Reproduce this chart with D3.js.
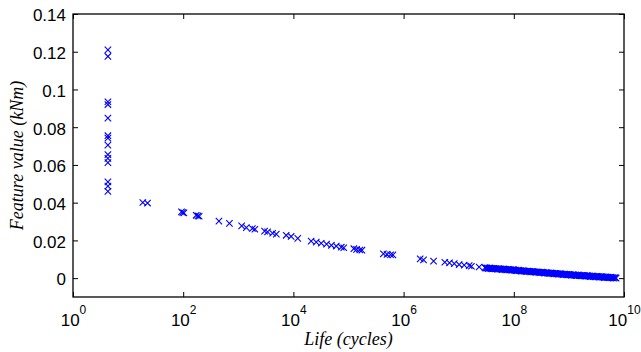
<!DOCTYPE html>
<html>
<head>
<meta charset="utf-8">
<script src="https://cdn.jsdelivr.net/npm/d3@7"></script>
<style>
  html, body { margin: 0; padding: 0; background: #fff; }
  svg { display: block; }
  .tick text { font-family: "Liberation Sans", Arial, Helvetica, sans-serif; fill: #000; }
  .label { font-family: "Liberation Serif", "Times New Roman", serif; font-style: italic; fill: #000; }
</style>
</head>
<body>
<svg id="chart" width="641" height="352"></svg>
<script>
// Short- and medium-life specimens
const earlyLife = [4.3, 4.3, 4.3, 4.3, 4.3, 4.3, 4.3, 4.3, 4.3, 4.3, 4.3, 4.3, 4.3, 4.3,
  18.5, 22.5, 93, 98, 103, 172, 185, 195, 445, 690,
  1150, 1400, 1800, 2000, 3000, 3400, 4200, 4900, 7400, 9100, 12000,
  21000, 26000, 32000, 40000, 49000, 60000, 74000, 82000,
  125000, 140000, 160000, 175000, 430000, 500000, 580000, 640000,
  2.0e6, 2.3e6, 3.5e6, 5.6e6, 6.8e6, 8.3e6, 1.02e7, 1.26e7, 1.55e7, 1.7e7, 2.35e7];
const earlyFeature = [0.1210, 0.1175, 0.0935, 0.0920, 0.0848, 0.0755, 0.0742, 0.0705, 0.0655, 0.0635, 0.0612, 0.0510, 0.0488, 0.0460,
  0.0401, 0.0398, 0.0351, 0.0348, 0.0346, 0.0333, 0.0330, 0.0328, 0.0302, 0.0290,
  0.0277, 0.0268, 0.0263, 0.0259, 0.0249, 0.0245, 0.0238, 0.0233, 0.0227, 0.0221, 0.0211,
  0.0196, 0.0191, 0.0185, 0.0180, 0.0174, 0.0170, 0.0164, 0.0161,
  0.0156, 0.0152, 0.0149, 0.0148, 0.0129, 0.0126, 0.0124, 0.0123,
  0.0102, 0.0097, 0.0090, 0.0084, 0.0081, 0.0077, 0.0072, 0.0069, 0.0066, 0.0063, 0.0059];

// High-cycle specimens, 1e7 decade
const tailLife7 = [3.0e7, 3.1e7, 3.25e7, 3.4e7, 3.5e7, 3.65e7, 3.8e7, 3.95e7, 4.1e7, 4.25e7,
  4.4e7, 4.6e7, 4.8e7, 5.0e7, 5.2e7, 5.4e7, 5.6e7, 5.85e7, 6.1e7, 6.35e7,
  6.6e7, 6.85e7, 7.1e7, 7.4e7, 7.7e7, 8.0e7, 8.3e7, 8.65e7, 9.0e7, 9.35e7, 9.7e7];
const tailFeature7 = [0.0056, 0.0053, 0.0054, 0.0051, 0.0052, 0.0054, 0.0051, 0.0052, 0.0049, 0.0051,
  0.0052, 0.0049, 0.0051, 0.0047, 0.0049, 0.0051, 0.0047, 0.0049, 0.0045, 0.0047,
  0.0049, 0.0045, 0.0047, 0.0044, 0.0045, 0.0047, 0.0044, 0.0045, 0.0042, 0.0043, 0.0045];

// High-cycle specimens, 1e8 decade
const tailLife8 = [1.0e8, 1.04e8, 1.08e8, 1.12e8, 1.17e8, 1.22e8, 1.27e8, 1.32e8, 1.37e8, 1.42e8,
  1.48e8, 1.54e8, 1.6e8, 1.66e8, 1.73e8, 1.8e8, 1.87e8, 1.94e8, 2.02e8, 2.1e8,
  2.18e8, 2.27e8, 2.36e8, 2.45e8, 2.55e8, 2.65e8, 2.75e8, 2.86e8, 2.97e8, 3.09e8,
  3.21e8, 3.34e8, 3.47e8, 3.6e8, 3.75e8, 3.9e8, 4.05e8, 4.2e8, 4.37e8, 4.54e8,
  4.72e8, 4.9e8, 5.1e8, 5.3e8, 5.5e8, 5.72e8, 5.95e8, 6.18e8, 6.42e8, 6.67e8,
  6.93e8, 7.2e8, 7.5e8, 7.8e8, 8.1e8, 8.4e8, 8.75e8, 9.1e8, 9.45e8, 9.8e8];
const tailFeature8 = [0.0044, 0.0041, 0.0042, 0.0039, 0.0040, 0.0042, 0.0039, 0.0040, 0.0037, 0.0038,
  0.0040, 0.0037, 0.0038, 0.0035, 0.0036, 0.0038, 0.0035, 0.0036, 0.0033, 0.0034,
  0.0036, 0.0033, 0.0034, 0.0031, 0.0032, 0.0034, 0.0031, 0.0032, 0.0029, 0.0030,
  0.0032, 0.0029, 0.0030, 0.0027, 0.0028, 0.0030, 0.0027, 0.0028, 0.0025, 0.0026,
  0.0028, 0.0025, 0.0026, 0.0023, 0.0024, 0.0026, 0.0023, 0.0024, 0.0021, 0.0022,
  0.0024, 0.0021, 0.0022, 0.0019, 0.0020, 0.0022, 0.0019, 0.0020, 0.0017, 0.0018];

// High-cycle specimens, 1e9 decade
const tailLife9 = [1.0e9, 1.04e9, 1.08e9, 1.12e9, 1.17e9, 1.22e9, 1.27e9, 1.32e9, 1.37e9, 1.42e9,
  1.48e9, 1.54e9, 1.6e9, 1.66e9, 1.73e9, 1.8e9, 1.87e9, 1.94e9, 2.02e9, 2.1e9,
  2.18e9, 2.27e9, 2.36e9, 2.45e9, 2.55e9, 2.65e9, 2.75e9, 2.86e9, 2.97e9, 3.09e9,
  3.21e9, 3.34e9, 3.47e9, 3.6e9, 3.75e9, 3.9e9, 4.05e9, 4.2e9, 4.37e9, 4.54e9,
  4.72e9, 4.9e9, 5.1e9, 5.3e9, 5.5e9, 5.72e9, 5.95e9, 6.18e9, 6.42e9, 6.67e9,
  6.93e9, 7.2e9];
const tailFeature9 = [0.0020, 0.0017, 0.0018, 0.0015, 0.0017, 0.0018, 0.0015, 0.0017, 0.0013, 0.0015,
  0.0017, 0.0013, 0.0015, 0.0012, 0.0013, 0.0015, 0.0012, 0.0013, 0.0010, 0.0012,
  0.0013, 0.0010, 0.0012, 0.0008, 0.0010, 0.0012, 0.0008, 0.0010, 0.0007, 0.0008,
  0.0010, 0.0007, 0.0008, 0.0005, 0.0007, 0.0008, 0.0005, 0.0007, 0.0003, 0.0005,
  0.0007, 0.0003, 0.0005, 0.0002, 0.0003, 0.0005, 0.0002, 0.0003, 0.0000, 0.0002,
  0.0003, 0.0000];

// Axis ticks
const xTickExponents = [0, 2, 4, 6, 8, 10];
const yTickValues = [0, 0.02, 0.04, 0.06, 0.08, 0.1, 0.12, 0.14];

const pair = (lives, values) => lives.map((n, i) => [n, values[i]]);
const points = [].concat(
  pair(earlyLife, earlyFeature),
  pair(tailLife7, tailFeature7),
  pair(tailLife8, tailFeature8),
  pair(tailLife9, tailFeature9));

const svg = d3.select("#chart");
const plot = { left: 73, right: 624, top: 14, bottom: 297 };

const x = d3.scaleLog().domain([1, 1e10]).range([plot.left, plot.right]);
const y = d3.scaleLinear().domain([-0.01, 0.14]).range([plot.bottom, plot.top]);

const tickFont = 17;
const xTicks = xTickExponents.map(e => Math.pow(10, e));

// Bottom axis with power-of-ten labels
const gx = svg.append("g")
  .attr("transform", `translate(0,${plot.bottom})`)
  .call(d3.axisBottom(x).tickValues(xTicks).tickSize(-5).tickSizeOuter(0).tickPadding(0).tickFormat(""));
gx.selectAll(".tick text").each(function(d) {
  const t = d3.select(this)
    .attr("font-size", tickFont)
    .attr("y", 29)
    .attr("dy", 0)
    .attr("text-anchor", "middle");
  t.append("tspan").text("10");
  t.append("tspan").attr("dy", -12).attr("font-size", 12).text(String(Math.round(Math.log10(d))));
});

// Top axis ticks only
svg.append("g")
  .attr("transform", `translate(0,${plot.top})`)
  .call(d3.axisTop(x).tickValues(xTicks).tickSize(-5).tickSizeOuter(0).tickFormat(""));

// Left axis with decimal labels
svg.append("g")
  .attr("transform", `translate(${plot.left},0)`)
  .call(d3.axisLeft(y).tickValues(yTickValues).tickSize(-5).tickSizeOuter(0).tickPadding(7)
    .tickFormat(d => String(+d.toFixed(2))))
  .selectAll(".tick text")
  .attr("font-size", tickFont)
  .attr("dy", "0.4em");

// Right axis ticks only
svg.append("g")
  .attr("transform", `translate(${plot.right},0)`)
  .call(d3.axisRight(y).tickValues(yTickValues).tickSize(-5).tickSizeOuter(0).tickFormat(""));

svg.selectAll(".domain").remove();
svg.selectAll(".tick line").attr("stroke", "#000").attr("stroke-width", 1);

// Plot box
svg.append("rect")
  .attr("x", plot.left).attr("y", plot.top)
  .attr("width", plot.right - plot.left).attr("height", plot.bottom - plot.top)
  .attr("fill", "none").attr("stroke", "#000").attr("stroke-width", 1.3);

// Cross markers
const r = 3.2;
svg.append("g")
  .selectAll("path")
  .data(points)
  .join("path")
  .attr("transform", d => `translate(${x(d[0])},${y(d[1])})`)
  .attr("d", `M${-r},${-r}L${r},${r}M${-r},${r}L${r},${-r}`)
  .attr("stroke", "#0000ff")
  .attr("stroke-width", 1.1)
  .attr("fill", "none");

// Axis titles
svg.append("text")
  .attr("class", "label")
  .attr("x", (plot.left + plot.right) / 2)
  .attr("y", 345)
  .attr("text-anchor", "middle")
  .attr("font-size", 18)
  .text("Life (cycles)");

svg.append("text")
  .attr("class", "label")
  .attr("transform", `translate(23,${(plot.top + plot.bottom) / 2}) rotate(-90)`)
  .attr("text-anchor", "middle")
  .attr("font-size", 18)
  .text("Feature value (kNm)");
</script>
</body>
</html>
